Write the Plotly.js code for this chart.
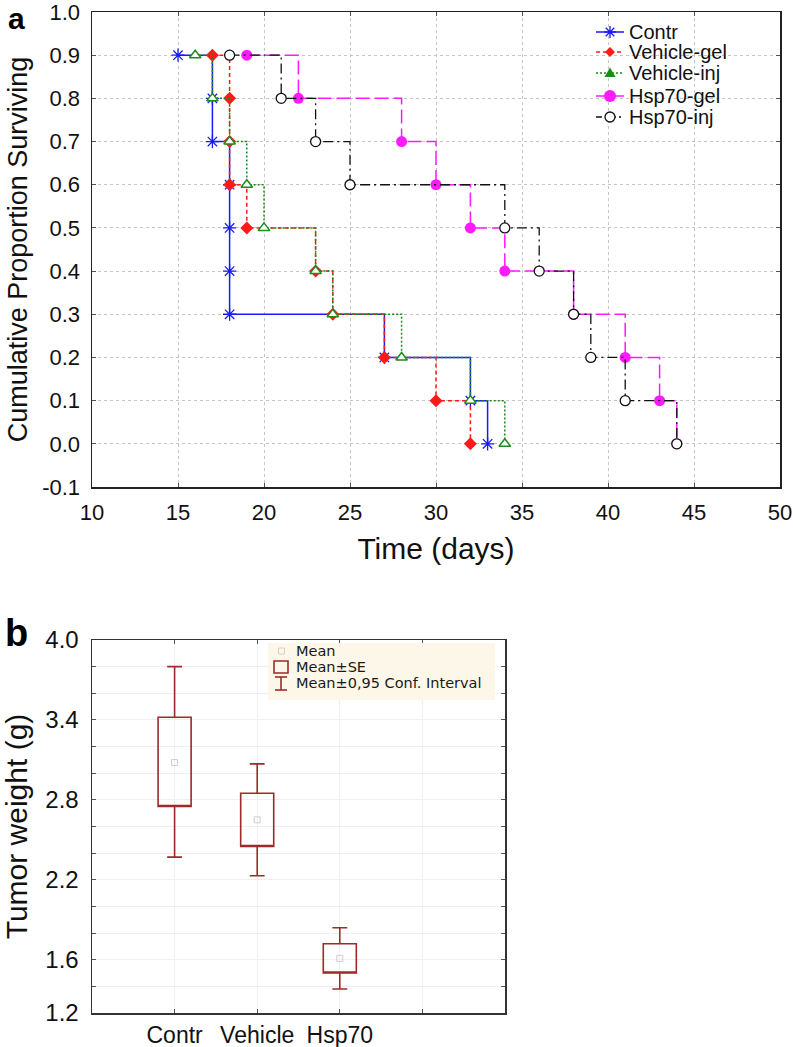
<!DOCTYPE html>
<html>
<head>
<meta charset="utf-8">
<script src="https://cdn.plot.ly/plotly-3.0.1.min.js"></script>
<style>html,body{margin:0;padding:0;background:#fff}#chart{width:793px;height:1047px}</style>
</head>
<body>
<div id="chart"></div>
<script>
// ---- Panel a: Kaplan-Meier survival (time in days, cumulative proportion surviving)
const survLevels = [0.9, 0.8, 0.7, 0.6, 0.5, 0.4, 0.3, 0.2, 0.1, 0.0];
const contrDays     = [15, 17, 17, 18, 18, 18, 18, 27, 32, 33];
const vehGelDays    = [17, 18, 18, 18, 19, 23, 24, 27, 30, 32];
const vehInjDays    = [16, 17, 18, 19, 20, 23, 24, 28, 32, 34];
const hspGelDays    = [19, 22, 28, 30, 32, 34, 38, 41, 43, 44];
const hspInjDays    = [18, 21, 23, 25, 34, 36, 38, 39, 41, 44];
const seriesNames   = ['Contr', 'Vehicle-gel', 'Vehicle-inj', 'Hsp70-gel', 'Hsp70-inj'];
const xTicksA = [10, 15, 20, 25, 30, 35, 40, 45, 50];
const yTicksA = [-0.1, 0.0, 0.1, 0.2, 0.3, 0.4, 0.5, 0.6, 0.7, 0.8, 0.9, 1.0];

// ---- Panel b: tumor weight (g)
const groups    = ['Contr', 'Vehicle', 'Hsp70'];
const groupPos  = [1, 2, 3];
const meanW     = [3.08, 2.65, 1.61];
const seLow     = [2.75, 2.45, 1.50];
const seHigh    = [3.42, 2.85, 1.72];
const ciLow     = [2.37, 2.23, 1.38];
const ciHigh    = [3.80, 3.07, 1.84];
const yTicksB   = [1.2, 1.6, 2.2, 2.8, 3.4, 4.0];
const legendBLabels = ['Mean', 'Mean±SE', 'Mean±0,95 Conf. Interval'];

const W = 793, H = 1047;
const px = v => v / W;
const py = v => 1 - v / H;
const FONT = 'Liberation Sans, Arial, sans-serif';

const colors = ['#1a1aff', '#ff1a1a', '#1a8c1a', '#ff1aff', '#111111'];
const dashes = ['solid', '4px,3px', '2px,2px', '14px,5px', '10px,4px,2px,4px'];

function km(days, i, marker, width) {
  return {
    type: 'scatter', mode: 'lines+markers', x: days, y: survLevels, name: seriesNames[i],
    xaxis: 'x', yaxis: 'y', line: {shape: 'hv', color: colors[i], dash: dashes[i], width: width || 1.5},
    marker: marker, showlegend: false, cliponaxis: false
  };
}

const data = [
  km(contrDays, 0, {symbol: 'asterisk-open', size: 11, color: colors[0], line: {color: colors[0], width: 1.3}}),
  km(vehGelDays, 1, {symbol: 'diamond', size: 10, color: colors[1], line: {width: 0}}),
  km(vehInjDays, 2, {symbol: 'triangle-up', size: 10, color: '#ffffff', line: {color: colors[2], width: 1.5}}),
  km(hspGelDays, 3, {symbol: 'circle', size: 11, color: colors[3], line: {width: 0}}),
  km(hspInjDays, 4, {symbol: 'circle', size: 10, color: '#ffffff', line: {color: colors[4], width: 1.3}}, 1.3),
  {
    type: 'box', x: groupPos, q1: seLow, median: seLow, q3: seHigh,
    lowerfence: ciLow, upperfence: ciHigh, xaxis: 'x2', yaxis: 'y2',
    boxpoints: false, width: 0.4, whiskerwidth: 0.45,
    line: {color: '#9e2a2a', width: 1.6}, fillcolor: 'rgba(0,0,0,0)',
    showlegend: false, hoverinfo: 'skip'
  },
  {
    type: 'scatter', mode: 'markers', x: groupPos, y: meanW, xaxis: 'x2', yaxis: 'y2',
    marker: {symbol: 'square-open', size: 6, color: '#d9c9c9', line: {color: '#d9c9c9', width: 1}},
    showlegend: false, hoverinfo: 'skip'
  }
];

// ---- manual legend for panel a (decoration, paper coordinates)
const legRows = [32, 52, 73, 96, 117];
const legShapes = [];
const legAnn = [];
const LX0 = 596, LX1 = 624, LC = 610;
legRows.forEach((ry, i) => {
  legShapes.push({type: 'line', xref: 'paper', yref: 'paper', x0: px(LX0), x1: px(LX1), y0: py(ry), y1: py(ry),
    line: {color: colors[i], width: 1.5, dash: i === 3 ? 'solid' : (i === 4 ? '6px,3px,2px,3px' : dashes[i])}});
  const P = (dx, dy) => px(LC + dx) + ',' + py(ry + dy);
  if (i === 0) {
    legShapes.push({type: 'path', xref: 'paper', yref: 'paper',
      path: 'M' + P(-6, 0) + 'L' + P(6, 0) + 'M' + P(0, -6) + 'L' + P(0, 6) +
            'M' + P(-4.3, -4.3) + 'L' + P(4.3, 4.3) + 'M' + P(-4.3, 4.3) + 'L' + P(4.3, -4.3),
      line: {color: colors[0], width: 1.3}});
  } else if (i === 1) {
    legShapes.push({type: 'path', xref: 'paper', yref: 'paper',
      path: 'M' + P(0, -5) + 'L' + P(5, 0) + 'L' + P(0, 5) + 'L' + P(-5, 0) + 'Z',
      fillcolor: colors[1], line: {width: 0}});
  } else if (i === 2) {
    legShapes.push({type: 'path', xref: 'paper', yref: 'paper',
      path: 'M' + P(0, -5.5) + 'L' + P(5.5, 4) + 'L' + P(-5.5, 4) + 'Z',
      fillcolor: colors[2], line: {width: 0}});
  } else if (i === 3) {
    legShapes.push({type: 'circle', xref: 'paper', yref: 'paper',
      x0: px(LC - 6), x1: px(LC + 6), y0: py(ry + 6), y1: py(ry - 6),
      fillcolor: colors[3], line: {width: 0}});
  } else {
    legShapes.push({type: 'circle', xref: 'paper', yref: 'paper',
      x0: px(LC - 5), x1: px(LC + 5), y0: py(ry + 5), y1: py(ry - 5),
      fillcolor: '#ffffff', line: {color: colors[4], width: 1.3}});
  }
  legAnn.push({text: seriesNames[i], xref: 'paper', yref: 'paper', x: px(627), y: py(ry),
    xanchor: 'left', yanchor: 'middle', showarrow: false,
    font: {family: FONT, size: 20, color: '#111'}});
});

// ---- manual legend for panel b
const legBRows = [651, 667, 683];
const legBShapes = [
  {type: 'rect', xref: 'paper', yref: 'paper', x0: px(268), x1: px(495), y0: py(700), y1: py(643),
   fillcolor: '#fdf7e9', line: {width: 0}, layer: 'above'},
  {type: 'rect', xref: 'paper', yref: 'paper', x0: px(278.5), x1: px(284.5), y0: py(654), y1: py(648),
   fillcolor: 'rgba(0,0,0,0)', line: {color: '#dccccc', width: 1}},
  {type: 'rect', xref: 'paper', yref: 'paper', x0: px(274), x1: px(288), y0: py(673), y1: py(661),
   fillcolor: 'rgba(0,0,0,0)', line: {color: '#9e2a2a', width: 1.6}},
  {type: 'line', xref: 'paper', yref: 'paper', x0: px(281), x1: px(281), y0: py(690), y1: py(677),
   line: {color: '#9e2a2a', width: 1.6}},
  {type: 'line', xref: 'paper', yref: 'paper', x0: px(275), x1: px(287), y0: py(677), y1: py(677),
   line: {color: '#9e2a2a', width: 1.6}},
  {type: 'line', xref: 'paper', yref: 'paper', x0: px(275), x1: px(287), y0: py(690), y1: py(690),
   line: {color: '#9e2a2a', width: 1.6}}
];
const legBAnn = legendBLabels.map((t, i) => ({
  text: t, xref: 'paper', yref: 'paper', x: px(294), y: py(legBRows[i]), xanchor: 'left', yanchor: 'middle',
  showarrow: false, font: {size: 14.5, family: 'DejaVu Sans, sans-serif', color: '#1a1a1a'}
}));

const layout = {
  width: W, height: H, margin: {l: 0, r: 0, t: 0, b: 0},
  paper_bgcolor: '#fff', plot_bgcolor: '#fff',
  font: {family: FONT, color: '#111', size: 20},
  showlegend: false,
  xaxis: {
    domain: [px(92), px(780)], anchor: 'y', range: [10, 50],
    tickvals: xTicksA, ticktext: xTicksA.map(String),
    ticks: 'inside', ticklen: 4, tickcolor: '#555', mirror: 'allticks',
    showline: true, linecolor: '#222', linewidth: 1.5,
    showgrid: true, gridcolor: '#c4c4c4', griddash: 'dot', gridwidth: 1,
    zeroline: false, tickfont: {size: 22}, ticklabelstandoff: 5, ticklabeloverflow: 'allow',
    title: {text: 'Time (days)', font: {size: 30}, standoff: 14}
  },
  yaxis: {
    domain: [py(487), py(12)], anchor: 'x', range: [-0.1, 1.0],
    tickvals: yTicksA, ticktext: yTicksA.map(v => v.toFixed(1)),
    ticks: 'inside', ticklen: 4, tickcolor: '#555', mirror: 'allticks',
    showline: true, linecolor: '#222', linewidth: 1.5,
    showgrid: true, gridcolor: '#c4c4c4', griddash: 'dot', gridwidth: 1,
    zeroline: false, tickfont: {size: 22}, ticklabelstandoff: 6, ticklabeloverflow: 'allow',
    title: {text: 'Cumulative Proportion Surviving', font: {size: 27}, standoff: 6}
  },
  xaxis2: {
    domain: [px(92), px(505)], anchor: 'y2', range: [0, 5],
    tickvals: [1, 2, 3, 4], ticktext: groups.concat(['']),
    ticks: 'inside', ticklen: 4, tickcolor: '#555', mirror: 'allticks',
    showline: true, linecolor: '#333', linewidth: 1.5,
    showgrid: true, gridcolor: '#efefef', zeroline: false,
    tickfont: {size: 23}, ticklabelstandoff: 1
  },
  yaxis2: {
    domain: [py(1013), py(640)], anchor: 'x2', range: [1.2, 4.0],
    tickvals: yTicksB, ticktext: yTicksB.map(v => v.toFixed(1)),
    ticks: 'inside', ticklen: 4, tickcolor: '#555', mirror: 'allticks',
    minor: {tick0: 1.2, dtick: 0.2, ticks: 'inside', ticklen: 4, tickcolor: '#555', showgrid: true, gridcolor: '#efefef'},
    showline: true, linecolor: '#333', linewidth: 1.5,
    showgrid: true, gridcolor: '#efefef', zeroline: false,
    tickfont: {size: 24}, ticklabelstandoff: 7, ticklabeloverflow: 'allow',
    title: {text: 'Tumor weight (g)', font: {size: 30}, standoff: 10}
  },
  shapes: legShapes.concat(legBShapes),
  annotations: [
    {text: '<b>a</b>', xref: 'paper', yref: 'paper', x: px(6), y: 1, xanchor: 'left', yanchor: 'top',
     showarrow: false, font: {size: 30, family: FONT, color: '#000'}},
    {text: '<b>b</b>', xref: 'paper', yref: 'paper', x: px(3), y: py(610), xanchor: 'left', yanchor: 'top',
     showarrow: false, font: {size: 38, family: FONT, color: '#000'}}
  ].concat(legAnn, legBAnn)
};

Plotly.newPlot('chart', data, layout, {staticPlot: true, displayModeBar: false});
</script>
</body>
</html>
